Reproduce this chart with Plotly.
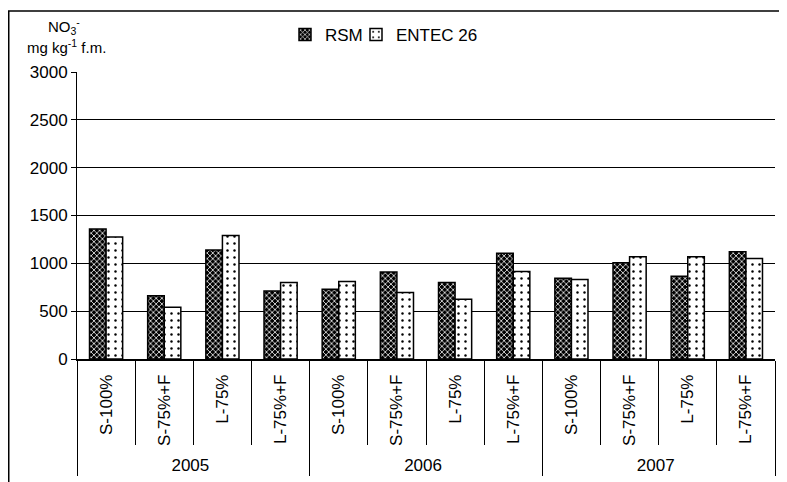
import plotly.graph_objects as go

years = ["2005"] * 4 + ["2006"] * 4 + ["2007"] * 4
treatments = ["S-100%", "S-75%+F", "L-75%", "L-75%+F"] * 3
rsm = [1360, 660, 1140, 710, 730, 910, 800, 1105, 845, 1005, 865, 1120]
entec = [1275, 540, 1290, 800, 810, 695, 625, 915, 830, 1070, 1070, 1050]
y_ticks = [0, 500, 1000, 1500, 2000, 2500, 3000]

FONT = "Liberation Sans, Arial, sans-serif"

# page has an 8px body margin; work in figure pixels
W, H = 779, 474
L, T = 69, 64
R = W - 767
B = H - 351
pw, ph = W - L - R, H - T - B


def px(x):
    return (x - L) / pw


def py(y):
    return (T + ph - y) / ph


fig = go.Figure()
fig.add_trace(go.Bar(
    name="RSM", x=[years, treatments], y=rsm, legend="legend",
    marker=dict(color="black", line=dict(color="black", width=1.5),
                pattern=dict(shape="x", bgcolor="black", fgcolor="white",
                             size=4, solidity=0.35, fillmode="replace")),
))
fig.add_trace(go.Bar(
    name="ENTEC 26", x=[years, treatments], y=entec, legend="legend2",
    marker=dict(color="white", line=dict(color="black", width=1.5),
                pattern=dict(shape=".", bgcolor="white", fgcolor="black",
                             size=7, solidity=0.1, fillmode="replace")),
))

leg_common = dict(orientation="h", xanchor="left", yanchor="middle",
                  font=dict(size=17), bgcolor="rgba(0,0,0,0)",
                  itemwidth=30, borderwidth=0)
fig.update_layout(
    width=W, height=H,
    margin=dict(l=L, r=R, t=T, b=B, pad=0, autoexpand=False),
    paper_bgcolor="white", plot_bgcolor="white",
    font=dict(family=FONT, size=17, color="black"),
    barmode="group", bargap=0.43, bargroupgap=0.0,
    legend=dict(x=px(277), y=py(27), **leg_common),
    legend2=dict(x=px(348), y=py(27), **leg_common),
    showlegend=True,
)
fig.update_yaxes(
    range=[0, 3000], tickvals=y_ticks, ticktext=[str(v) for v in y_ticks],
    showgrid=True, gridcolor="black", gridwidth=1,
    showline=True, linecolor="black", linewidth=1,
    ticks="outside", ticklen=5, tickcolor="black",
    tickfont=dict(size=17), zeroline=False, automargin=False,
)
fig.update_xaxes(
    type="multicategory", tickangle=-90, automargin=False,
    showline=True, linecolor="black", linewidth=1.5,
    ticks="outside", ticklen=84, tickcolor="black", tickwidth=1,
    showdividers=True, dividercolor="black", dividerwidth=1,
    tickfont=dict(size=17), ticklabelstandoff=7,
)

# outer frame (top/left visible)
fig.add_shape(type="rect", xref="paper", yref="paper",
              x0=px(0.75), x1=px(W + 10), y0=py(H + 10), y1=py(3),
              line=dict(color="black", width=1.5), fillcolor="rgba(0,0,0,0)",
              layer="below")

fig.add_annotation(text="NO<sub>3</sub><sup>-</sup>", xref="paper", yref="paper",
                   x=px(56), y=py(19), showarrow=False,
                   font=dict(size=15), xanchor="center", yanchor="middle")
fig.add_annotation(text="mg kg<sup>-1</sup> f.m.", xref="paper", yref="paper",
                   x=px(58), y=py(38), showarrow=False,
                   font=dict(size=15), xanchor="center", yanchor="middle")

fig.write_html("out.html")
